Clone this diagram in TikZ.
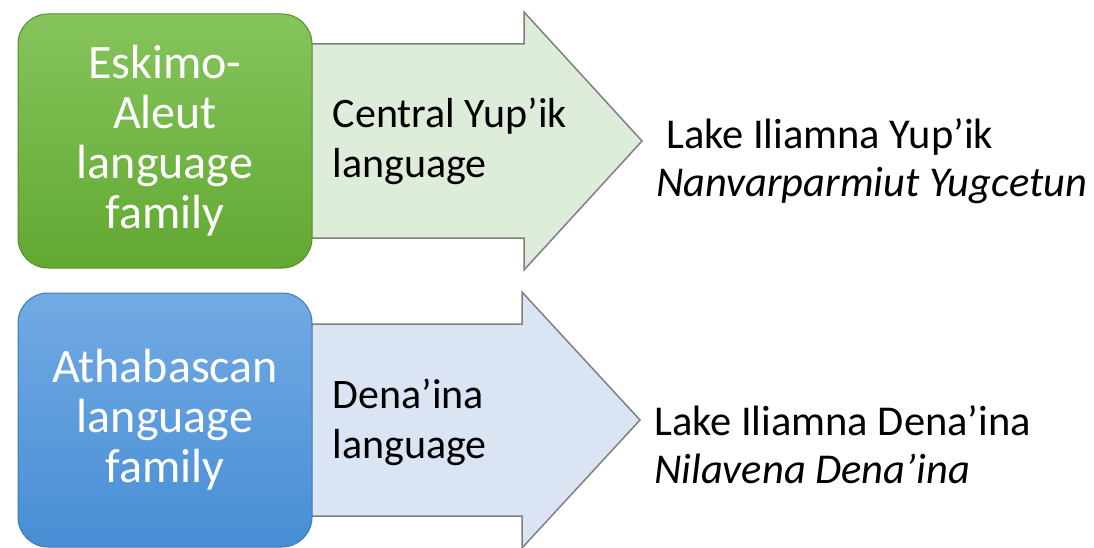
\documentclass[tikz,border=0pt]{standalone}
\usepackage{fontspec}
\setmainfont{Carlito}
\usetikzlibrary{positioning,backgrounds}
\definecolor{esktop}{RGB}{134,196,92}
\definecolor{eskgreen}{RGB}{98,168,50}
\definecolor{athtop}{RGB}{114,170,228}
\definecolor{athblue}{RGB}{72,142,212}
\definecolor{yupfill}{RGB}{222,236,218}
\definecolor{denfill}{RGB}{218,228,243}
\tikzset{
  famnode/.style 2 args={draw=#2!85!black, line width=1pt, rounded corners=30pt,
    top color=#1, bottom color=#2, minimum width=294pt,
    minimum height=254pt, text=white, align=center,
    font=\fontsize{48}{50}\selectfont},
  langarrow/.style={draw=black!50, line width=1.5pt, line join=miter},
  midtext/.style={anchor=west, inner sep=0pt, align=left,
    font=\fontsize{42}{50}\selectfont},
  dialtext/.style={anchor=west, inner sep=0pt, align=left,
    font=\fontsize{42.5}{48}\selectfont}
}
\begin{document}
\begin{tikzpicture}[x=1pt,y=-1pt]
  \useasboundingbox (0,0) rectangle (1094,548);
  \node[famnode={esktop}{eskgreen}] (eskimo) at (165,141) {Eskimo-\\Aleut\\language\\family};
  \node[famnode={athtop}{athblue}] (athab) at (165,420) {Athabascan\\language\\family};
  \begin{scope}[on background layer]
    \draw[langarrow, fill=yupfill] (eskimo.center) ++(135,-97) -- ++(224,0)
      -- ++(0,-32) -- ++(118,129) coordinate (yuptip) -- ++(-118,129)
      -- ++(0,-32) -- ++(-224,0) -- cycle;
    \draw[langarrow, fill=denfill] (athab.center) ++(135,-96) -- ++(222,0)
      -- ++(0,-32) -- ++(118,128) coordinate (dentip) -- ++(-118,128)
      -- ++(0,-32) -- ++(-222,0) -- cycle;
  \end{scope}
  \node[midtext, right=20pt of eskimo.east] (yupik) {Central Yup’ik\\language};
  \node[midtext, right=20pt of athab.east, yshift=-2pt] (denaina) {Dena’ina\\language};
  \node[dialtext, right=14pt of yuptip, yshift=-20pt] (iliyup)
    {\hspace{10pt}Lake Iliamna Yup’ik\\\textit{Nanvarparmiut Yugcetun}};
  \node[dialtext, right=14pt of dentip, yshift=-25pt] (iliden)
    {Lake Iliamna Dena’ina\\\textit{Nilavena Dena’ina}};
\end{tikzpicture}
\end{document}
